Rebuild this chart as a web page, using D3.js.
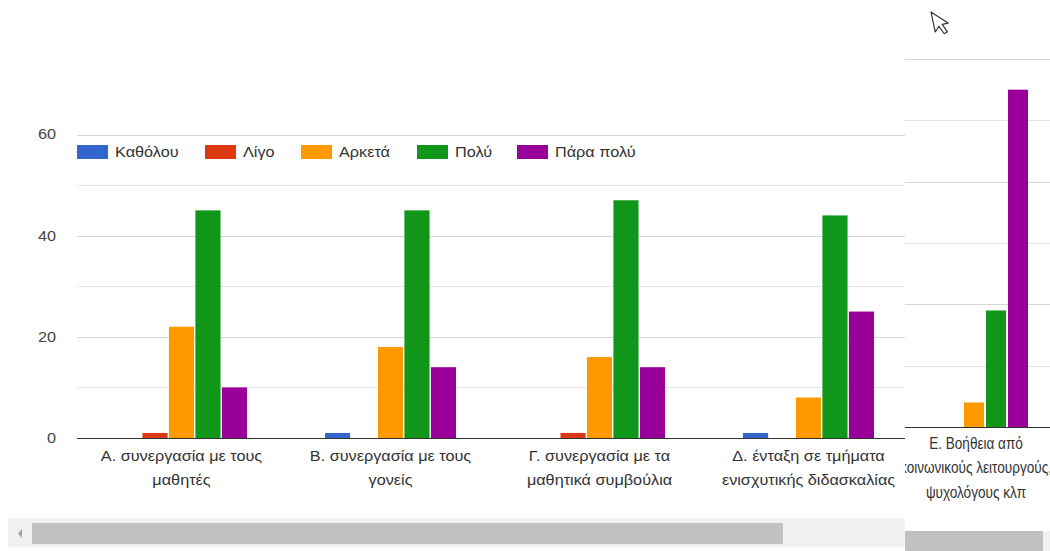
<!DOCTYPE html>
<html>
<head>
<meta charset="utf-8">
<script src="https://cdn.jsdelivr.net/npm/d3@7/dist/d3.min.js"></script>
<style>
  html, body { margin: 0; padding: 0; background: #fff; }
  svg { display: block; font-family: "Liberation Sans", Arial, sans-serif; }
</style>
</head>
<body>
<svg id="chart" width="1050" height="551"></svg>
<script>
// Survey answers, one row per question, one column per answer option.
const categories = ["Α", "Β", "Γ", "Δ", "Ε"];
const categoryLines = [
  ["Α. συνεργασία με τους", "μαθητές"],
  ["Β. συνεργασία με τους", "γονείς"],
  ["Γ. συνεργασία με τα", "μαθητικά συμβούλια"],
  ["Δ. ένταξη σε τμήματα", "ενισχυτικής διδασκαλίας"],
  ["Ε. Βοήθεια από", "κοινωνικούς λειτουργούς,", "ψυχολόγους κλπ"]
];
const series = ["Καθόλου", "Λίγο", "Αρκετά", "Πολύ", "Πάρα πολύ"];
const colors = ["#3366cc", "#dc3912", "#ff9900", "#109618", "#990099"];
const valuesKatholou = [0, 1, 0, 1, 0];
const valuesLigo     = [1, 0, 1, 0, 0];
const valuesArketa   = [22, 18, 16, 8, 4];
const valuesPoly     = [45, 45, 47, 44, 19];
const valuesParaPoly = [10, 14, 14, 25, 55];
const yTicks = [0, 20, 40, 60];
const yGrid = [10, 20, 30, 40, 50, 60];

const seriesValues = [valuesKatholou, valuesLigo, valuesArketa, valuesPoly, valuesParaPoly];
const rows = categories.map((c, i) => ({
  cat: c,
  lines: categoryLines[i],
  vals: series.map((s, j) => ({ key: s, value: seriesValues[j][i], color: colors[j] }))
}));

const svg = d3.select("#chart");
const defs = svg.append("defs");
const textStretch = 1.16;   // the wide view renders its text slightly stretched

// ---------- main chart (scrolling view, cut at the panel edge) ----------
const mainRight = 905;
defs.append("clipPath").attr("id", "mainClip")
  .append("rect").attr("x", 0).attr("y", 0).attr("width", mainRight).attr("height", 551);

const y = d3.scaleLinear().domain([0, 60]).range([438, 134.5]);
const x0 = d3.scaleBand().domain(categories).range([77, 1122])
  .paddingInner(0.3732).paddingOuter(0.1866);
const x1 = d3.scaleBand().domain(series).range([0, x0.bandwidth()]).paddingInner(0.05);

// only the groups that start inside the visible part of the scrolling view
const visibleRows = rows.filter(d => x0(d.cat) < mainRight);

const main = svg.append("g").attr("clip-path", "url(#mainClip)");

main.selectAll("line.grid").data(yGrid).join("line")
  .attr("class", "grid")
  .attr("x1", 77).attr("x2", mainRight)
  .attr("y1", d => Math.round(y(d)) + 0.5).attr("y2", d => Math.round(y(d)) + 0.5)
  .attr("stroke", d => d % 20 === 0 ? "#d6d6d6" : "#e6e6e6").attr("stroke-width", 1);

const groups = main.selectAll("g.group").data(visibleRows).join("g")
  .attr("class", "group")
  .attr("transform", d => `translate(${x0(d.cat)},0)`);
groups.selectAll("rect").data(d => d.vals).join("rect")
  .attr("x", d => x1(d.key))
  .attr("width", x1.bandwidth())
  .attr("y", d => y(d.value))
  .attr("height", d => y(0) - y(d.value))
  .attr("fill", d => d.color);

main.append("line")
  .attr("x1", 77).attr("x2", mainRight)
  .attr("y1", y(0) + 0.5).attr("y2", y(0) + 0.5)
  .attr("stroke", "#333").attr("stroke-width", 1);

// y axis labels
const yAxis = d3.axisLeft(y).tickValues(yTicks).tickSize(0).tickPadding(0);
const yg = svg.append("g").attr("transform", "translate(56,0)").call(yAxis);
yg.select(".domain").remove();
yg.selectAll(".tick text")
  .attr("x", 0)
  .attr("transform", `scale(${textStretch},1)`)
  .attr("font-size", 14).attr("fill", "#444")
  .attr("font-family", "Liberation Sans, Arial, sans-serif");

// category labels
const labels = main.selectAll("text.cat").data(visibleRows).join("text")
  .attr("class", "cat")
  .attr("transform", d => `translate(${x0(d.cat) + x0.bandwidth() / 2},461) scale(${textStretch},1)`)
  .attr("text-anchor", "middle")
  .attr("font-size", 14).attr("fill", "#333");
labels.selectAll("tspan").data(d => d.lines).join("tspan")
  .attr("x", 0)
  .attr("dy", (d, i) => i === 0 ? 0 : 24)
  .text(d => d);

// legend
const legendX = [77, 205, 301, 417, 517];
const legend = main.selectAll("g.legend").data(series).join("g")
  .attr("class", "legend")
  .attr("transform", (d, i) => `translate(${legendX[i]},145)`);
legend.append("rect").attr("width", 31).attr("height", 14)
  .attr("fill", (d, i) => colors[i]);
legend.append("text")
  .attr("transform", `translate(38,12) scale(${textStretch},1)`)
  .attr("font-size", 14).attr("fill", "#333").text(d => d);

// scrollbar of the main view
svg.append("rect").attr("x", 8).attr("y", 518).attr("width", mainRight - 8).attr("height", 29)
  .attr("fill", "#f1f1f1");
svg.append("rect").attr("x", 32).attr("y", 523).attr("width", 751).attr("height", 21)
  .attr("fill", "#c1c1c1");
svg.append("path").attr("d", "M22,529 L18,533.5 L22,538 Z").attr("fill", "#a3a3a3");

// ---------- side panel: last question at its own scale ----------
const panelX = 905;
defs.append("clipPath").attr("id", "panelClip")
  .append("rect").attr("x", panelX).attr("y", 0).attr("width", 1050 - panelX).attr("height", 551);
const panel = svg.append("g").attr("clip-path", "url(#panelClip)");
panel.append("rect").attr("x", panelX).attr("y", 0).attr("width", 1050 - panelX).attr("height", 551)
  .attr("fill", "#fff");

const yP = d3.scaleLinear().domain([0, 60]).range([427, 59]);
const lastRow = rows[rows.length - 1];
const xP = d3.scaleBand().domain(series).range([920, 1028]).paddingInner(0.09);

panel.selectAll("line.grid").data(yGrid).join("line")
  .attr("class", "grid")
  .attr("x1", panelX).attr("x2", 1050)
  .attr("y1", d => Math.round(yP(d)) + 0.5).attr("y2", d => Math.round(yP(d)) + 0.5)
  .attr("stroke", d => d % 20 === 0 ? "#d6d6d6" : "#e2e2e2");

panel.selectAll("rect.bar").data(lastRow.vals).join("rect")
  .attr("class", "bar")
  .attr("x", d => xP(d.key))
  .attr("width", xP.bandwidth())
  .attr("y", d => yP(d.value))
  .attr("height", d => yP(0) - yP(d.value))
  .attr("fill", d => d.color);

panel.append("line")
  .attr("x1", panelX).attr("x2", 1050)
  .attr("y1", yP(0) + 0.5).attr("y2", yP(0) + 0.5)
  .attr("stroke", "#333");

// the panel view is squeezed sideways and stretched upright
const pLabel = panel.append("text")
  .attr("transform", "translate(976,449) scale(0.97,1.15)")
  .attr("text-anchor", "middle").attr("font-size", 14).attr("fill", "#333");
pLabel.selectAll("tspan").data(lastRow.lines).join("tspan")
  .attr("x", 0).attr("dy", (d, i) => i === 0 ? 0 : 21.3).text(d => d);

panel.append("rect").attr("x", panelX).attr("y", 531).attr("width", 138).attr("height", 20)
  .attr("fill", "#c1c1c1");
panel.append("rect").attr("x", 1043).attr("y", 531).attr("width", 7).attr("height", 20)
  .attr("fill", "#f1f1f1");

// mouse pointer
svg.append("path")
  .attr("transform", "translate(931,12) rotate(-12) scale(1.2)")
  .attr("d", "M0,0 L0,17 L4,13 L7,20 L10,19 L7,12 L12,12 Z")
  .attr("fill", "#fff").attr("stroke", "#333").attr("stroke-width", 1)
  .attr("stroke-linejoin", "round");
</script>
</body>
</html>
